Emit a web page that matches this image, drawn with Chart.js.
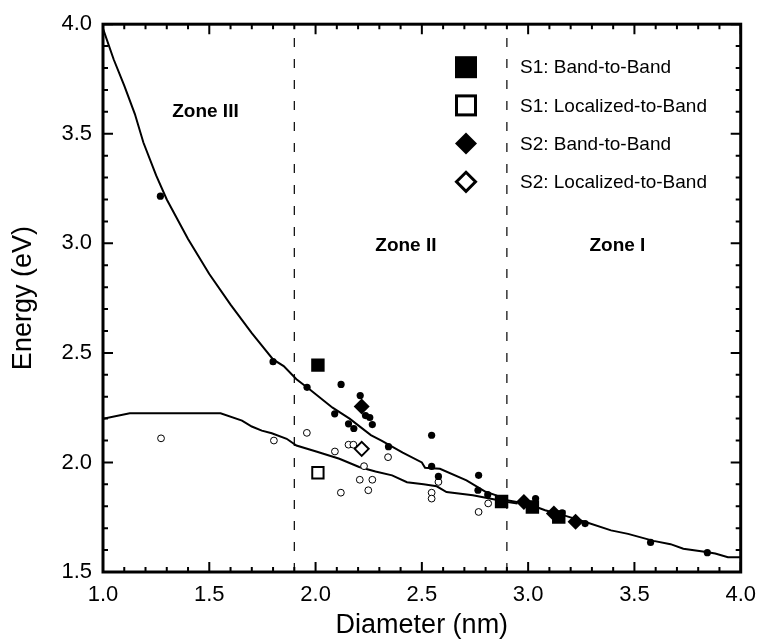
<!DOCTYPE html>
<html>
<head>
<meta charset="utf-8">
<script src="https://cdn.jsdelivr.net/npm/chart.js@4.4.1/dist/chart.umd.min.js"></script>
<style>
html,body{margin:0;padding:0;background:#fff;}
#wrap{width:766px;height:639px;position:relative;}
canvas{display:block;}
</style>
</head>
<body>
<div id="wrap"><canvas id="c" width="766" height="639"></canvas></div>
<script>
// ---------- data ----------
const xTicks = [1.0, 1.5, 2.0, 2.5, 3.0, 3.5, 4.0];
const xTickLabels = ['1.0', '1.5', '2.0', '2.5', '3.0', '3.5', '4.0'];
const yTicks = [1.5, 2.0, 2.5, 3.0, 3.5, 4.0];
const yTickLabels = ['1.5', '2.0', '2.5', '3.0', '3.5', '4.0'];
const xMinorTicks = [1.1,1.2,1.3,1.4,1.6,1.7,1.8,1.9,2.1,2.2,2.3,2.4,2.6,2.7,2.8,2.9,3.1,3.2,3.3,3.4,3.6,3.7,3.8,3.9];
const yMinorTicks = [1.6,1.7,1.8,1.9,2.1,2.2,2.3,2.4,2.6,2.7,2.8,2.9,3.1,3.2,3.3,3.4,3.6,3.7,3.8,3.9];

// upper fitted curve (band-to-band)
const upperX = [1.00,1.05,1.10,1.15,1.19,1.25,1.30,1.40,1.50,1.60,1.70,1.80,1.85,1.91,1.97,2.08,2.16,2.26,2.31,2.41,2.50,2.515,2.585,2.71,2.80,2.85,2.90,3.00,3.08,3.18,3.27,3.39,3.47,3.59,3.67,3.73,3.83,3.88,3.94,4.00];
const upperY = [3.98,3.84,3.72,3.59,3.46,3.31,3.20,3.02,2.86,2.72,2.59,2.47,2.44,2.38,2.335,2.25,2.20,2.125,2.10,2.045,2.00,1.976,1.971,1.918,1.866,1.85,1.827,1.81,1.782,1.755,1.728,1.69,1.674,1.642,1.627,1.606,1.592,1.584,1.567,1.567];

// lower fitted curve (localized-to-band)
const lowerX = [1.00,1.126,1.553,1.654,1.70,1.747,1.794,1.864,1.91,2.003,2.112,2.205,2.282,2.36,2.43,2.508,2.57,2.616,2.74,2.849,2.896,2.95];
const lowerY = [2.199,2.224,2.224,2.191,2.164,2.145,2.133,2.108,2.077,2.05,2.017,1.979,1.959,1.941,1.910,1.90,1.891,1.865,1.85,1.830,1.82,1.813];

// small filled circles
const dotX = [1.27,1.80,1.96,2.09,2.12,2.155,2.18,2.21,2.235,2.255,2.267,2.343,2.546,2.546,2.578,2.764,2.767,2.81,3.035,3.16,3.268,3.576,3.843];
const dotY = [3.215,2.46,2.343,2.222,2.356,2.176,2.155,2.305,2.214,2.205,2.173,2.072,2.124,1.982,1.936,1.873,1.941,1.853,1.835,1.77,1.721,1.635,1.588];

// small open circles
const ringX = [1.273,1.804,1.959,2.091,2.119,2.155,2.178,2.208,2.228,2.248,2.267,2.341,2.546,2.546,2.578,2.767,2.812];
const ringY = [2.11,2.10,2.135,2.05,1.862,2.081,2.081,1.921,1.983,1.873,1.921,2.024,1.862,1.835,1.911,1.774,1.813];

// S1 / S2 series
const s1BandX = [2.011,2.875,3.02,3.144];
const s1BandY = [2.444,1.822,1.797,1.751];
const s1LocX = [2.011];
const s1LocY = [1.953];
const s2BandX = [2.217,2.98,3.121,3.223];
const s2BandY = [2.255,1.82,1.767,1.729];
const s2LocX = [2.217];
const s2LocY = [2.062];

// zone boundaries and labels
const zoneBounds = [1.9, 2.9];
const zoneLabels = ['Zone III', 'Zone II', 'Zone I'];
const zoneLabelX = [1.482, 2.425, 3.42];
const zoneLabelY = [3.60, 2.99, 2.99];

const legendLabels = ['S1: Band-to-Band', 'S1: Localized-to-Band', 'S2: Band-to-Band', 'S2: Localized-to-Band'];

// ---------- helpers ----------
const FAM = '"Liberation Sans", Arial, Helvetica, sans-serif';
const pts = (xs, ys) => xs.map((v, i) => ({x: v, y: ys[i]}));

const datasets = [
  {label: legendLabels[0], data: pts(s1BandX, s1BandY), pointStyle: 'rect', pointRadius: 9.5, backgroundColor: '#000', borderColor: '#000', borderWidth: 0, order: 1},
  {label: legendLabels[1], data: pts(s1LocX, s1LocY), pointStyle: 'rect', pointRadius: 8, backgroundColor: '#fff', borderColor: '#000', borderWidth: 2, order: 1},
  {label: legendLabels[2], data: pts(s2BandX, s2BandY), pointStyle: 'rectRot', pointRadius: 8, backgroundColor: '#000', borderColor: '#000', borderWidth: 0, order: 1},
  {label: legendLabels[3], data: pts(s2LocX, s2LocY), pointStyle: 'rectRot', pointRadius: 7, backgroundColor: '#fff', borderColor: '#000', borderWidth: 2, order: 1},
  {label: 'dots', data: pts(dotX, dotY), pointStyle: 'circle', pointRadius: 3.6, backgroundColor: '#000', borderColor: '#000', borderWidth: 0, order: 2},
  {label: 'rings', data: pts(ringX, ringY), pointStyle: 'circle', pointRadius: 3.4, backgroundColor: '#fff', borderColor: '#000', borderWidth: 1, order: 2},
  {type: 'line', label: 'upper', data: pts(upperX, upperY), showLine: true, pointRadius: 0, borderColor: '#000', borderWidth: 2, tension: 0, fill: false, order: 3},
  {type: 'line', label: 'lower', data: pts(lowerX, lowerY), showLine: true, pointRadius: 0, borderColor: '#000', borderWidth: 2, tension: 0, fill: false, order: 3},
];
zoneBounds.forEach(b => {
  datasets.push({type: 'line', label: 'bound', data: [{x: b, y: yTicks[0]}, {x: b, y: yTicks[yTicks.length - 1]}], showLine: true, pointRadius: 0, borderColor: '#000', borderWidth: 1.2, borderDash: [9, 12], order: 4});
});

// ---------- decoration plugin: frame, inward ticks, zone labels, legend ----------
const decor = {
  id: 'decor',
  afterDatasetsDraw(chart) {
    const {ctx, chartArea: a, scales: {x, y}} = chart;
    ctx.save();
    ctx.strokeStyle = '#000';
    ctx.lineWidth = 2;
    ctx.beginPath();
    const xt = (v, len) => { const p = x.getPixelForValue(v); ctx.moveTo(p, a.bottom); ctx.lineTo(p, a.bottom - len); ctx.moveTo(p, a.top); ctx.lineTo(p, a.top + len); };
    const yt = (v, len) => { const p = y.getPixelForValue(v); ctx.moveTo(a.left, p); ctx.lineTo(a.left + len, p); ctx.moveTo(a.right, p); ctx.lineTo(a.right - len, p); };
    xMinorTicks.forEach(v => xt(v, 5));
    xTicks.forEach(v => xt(v, 10));
    yMinorTicks.forEach(v => yt(v, 5));
    yTicks.forEach(v => yt(v, 10));
    ctx.stroke();
    ctx.lineWidth = 3;
    ctx.strokeRect(a.left, a.top, a.right - a.left, a.bottom - a.top);

    // zone labels
    ctx.fillStyle = '#000';
    ctx.font = 'bold 19px ' + FAM;
    ctx.textAlign = 'center';
    ctx.textBaseline = 'middle';
    zoneLabels.forEach((t, i) => ctx.fillText(t, x.getPixelForValue(zoneLabelX[i]), y.getPixelForValue(zoneLabelY[i])));

    // legend
    const lx = a.left + 363, ly0 = a.top + 43, dy = 38.2, tx = a.left + 417;
    ctx.font = '19px ' + FAM;
    ctx.textAlign = 'left';
    legendLabels.forEach((t, i) => {
      const cy = ly0 + i * dy;
      ctx.lineWidth = 3;
      ctx.beginPath();
      if (i < 2) {
        if (i === 0) { ctx.fillRect(lx - 11, cy - 11, 22, 22); }
        else { ctx.fillStyle = '#fff'; ctx.fillRect(lx - 9.5, cy - 9.5, 19, 19); ctx.fillStyle = '#000'; ctx.strokeRect(lx - 9.5, cy - 9.5, 19, 19); }
      } else {
        const r = i === 2 ? 11 : 9.5;
        ctx.moveTo(lx, cy - r); ctx.lineTo(lx + r, cy); ctx.lineTo(lx, cy + r); ctx.lineTo(lx - r, cy); ctx.closePath();
        if (i === 2) ctx.fill(); else { ctx.fillStyle = '#fff'; ctx.fill(); ctx.fillStyle = '#000'; ctx.stroke(); }
      }
      ctx.fillText(t, tx, cy + 1);
    });
    ctx.restore();
  }
};

new Chart(document.getElementById('c'), {
  type: 'scatter',
  data: {datasets},
  options: {
    responsive: false,
    animation: false,
    devicePixelRatio: 1,
    events: [],
    layout: {padding: {left: 0, right: 19, top: 22, bottom: 0}},
    plugins: {legend: {display: false}, tooltip: {enabled: false}},
    scales: {
      x: {
        type: 'linear', min: 1.0, max: 4.0,
        afterBuildTicks: s => { s.ticks = xTicks.map(v => ({value: v})); },
        afterFit: s => { s.height = 67; },
        ticks: {autoSkip: false, maxRotation: 0, padding: 10, color: '#000', font: {family: FAM, size: 22}, callback: (v, i) => xTickLabels[i]},
        grid: {display: false, drawTicks: false, tickLength: 0},
        border: {display: false},
        title: {display: true, text: 'Diameter (nm)', color: '#000', font: {family: FAM, size: 27, lineHeight: 1}, padding: {top: 0, bottom: 0}}
      },
      y: {
        type: 'linear', min: 1.5, max: 4.0,
        afterBuildTicks: s => { s.ticks = yTicks.map(v => ({value: v})); },
        afterFit: s => { s.width = 103; },
        ticks: {autoSkip: false, padding: 11, color: '#000', font: {family: FAM, size: 22}, callback: (v, i) => yTickLabels[i]},
        grid: {display: false, drawTicks: false, tickLength: 0},
        border: {display: false},
        title: {display: true, text: 'Energy (eV)', color: '#000', font: {family: FAM, size: 27, lineHeight: 1}, padding: {top: 10, bottom: 0}}
      }
    }
  },
  plugins: [decor]
});
</script>
</body>
</html>
